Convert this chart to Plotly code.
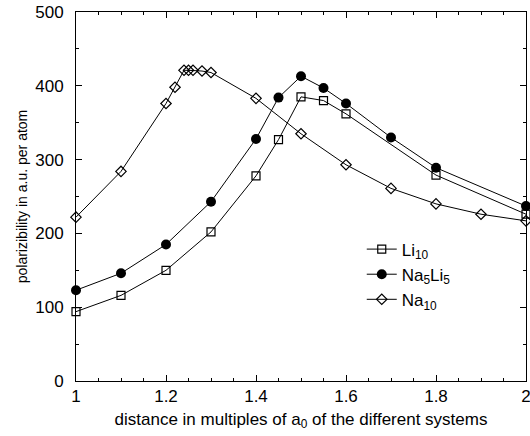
import plotly.graph_objects as go

li10_x = [1.0, 1.1, 1.2, 1.3, 1.4, 1.45, 1.5, 1.55, 1.6, 1.8, 2.0]
li10_y = [94, 116, 150, 202, 278, 327, 385, 380, 362, 279, 226]

na5li5_x = [1.0, 1.1, 1.2, 1.3, 1.4, 1.45, 1.5, 1.55, 1.6, 1.7, 1.8, 2.0]
na5li5_y = [123, 146, 185, 243, 328, 384, 413, 397, 376, 330, 289, 237]

na10_x = [1.0, 1.1, 1.2, 1.22, 1.24, 1.25, 1.26, 1.28, 1.3, 1.4, 1.5, 1.6, 1.7, 1.8, 1.9, 2.0]
na10_y = [222, 284, 376, 398, 421, 421, 421, 420, 418, 383, 335, 293, 261, 240, 226, 217]

fig = go.Figure()
fig.add_trace(go.Scatter(x=li10_x, y=li10_y, mode="lines+markers", name="Li<sub>10</sub>",
                         line=dict(color="black", width=1), cliponaxis=False,
                         marker=dict(symbol="square-open", size=8, color="black", line=dict(width=1.2))))
fig.add_trace(go.Scatter(x=na5li5_x, y=na5li5_y, mode="lines+markers", name="Na<sub>5</sub>Li<sub>5</sub>",
                         line=dict(color="black", width=1), cliponaxis=False,
                         marker=dict(symbol="circle", size=10, color="black")))
fig.add_trace(go.Scatter(x=na10_x, y=na10_y, mode="lines+markers", name="Na<sub>10</sub>",
                         line=dict(color="black", width=1), cliponaxis=False,
                         marker=dict(symbol="diamond-open", size=8, color="black", line=dict(width=1.2))))

axis_common = dict(showline=True, linecolor="black", linewidth=1, mirror="allticks",
                   ticks="inside", ticklen=6, tickcolor="black", showgrid=False, zeroline=False,
                   automargin=False, ticklabeloverflow="allow",
                   tickfont=dict(size=17, color="black"))

fig.update_xaxes(range=[1, 2], dtick=0.2, tick0=1,
                 minor=dict(ticks="inside", dtick=0.05, ticklen=3, tickcolor="black"),
                 title=dict(text="distance in multiples of a<sub>0</sub> of the different systems",
                            font=dict(size=17, color="black"), standoff=7),
                 **axis_common)
fig.update_yaxes(range=[0, 500], dtick=100, ticklabelstandoff=8,
                 minor=dict(ticks="inside", dtick=50, ticklen=3, tickcolor="black"),
                 title=dict(text="polarizibility in a.u. per atom",
                            font=dict(size=14, color="black"), standoff=4),
                 **axis_common)

fig.update_layout(width=530, height=436,
                  margin=dict(l=76, r=4, t=12, b=55),
                  paper_bgcolor="white", plot_bgcolor="white",
                  font=dict(family="Liberation Sans, Arial, sans-serif", color="black"),
                  legend=dict(x=0.635, y=0.405, xanchor="left", yanchor="top",
                              bgcolor="rgba(0,0,0,0)", font=dict(size=17), tracegroupgap=0,
                              itemwidth=30))

fig.write_html("out.html", config={"displayModeBar": False},
               post_script="document.body.style.margin='0px';document.body.style.overflow='hidden';")
